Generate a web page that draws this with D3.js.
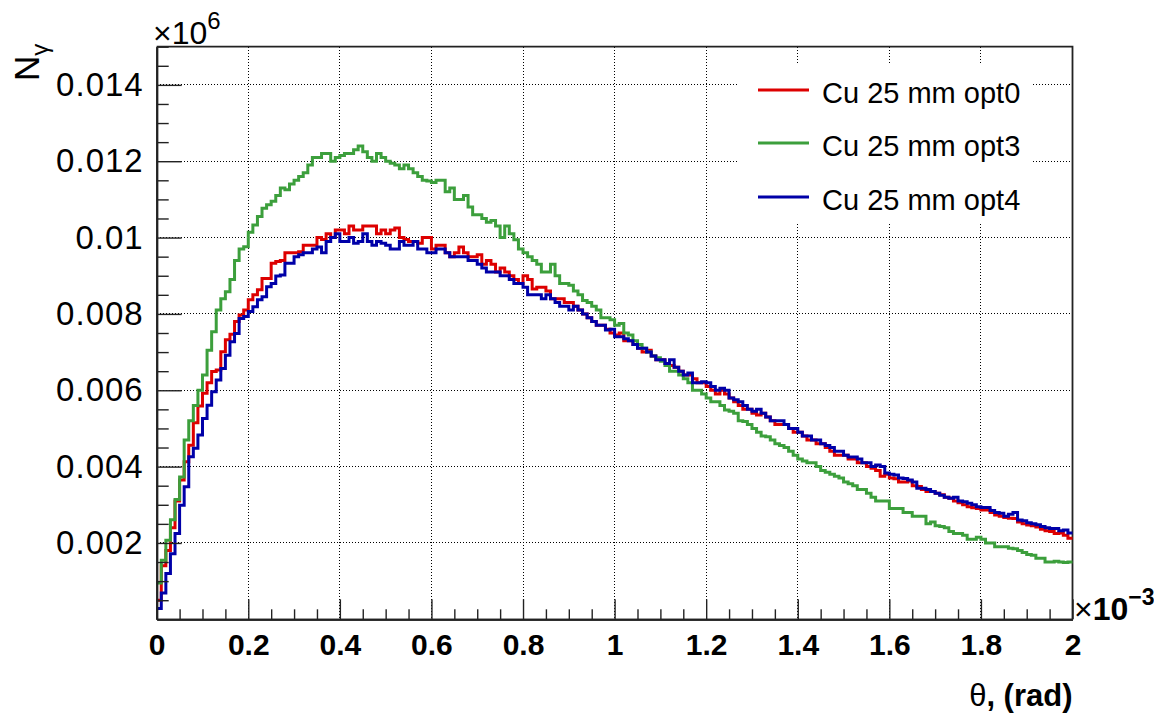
<!DOCTYPE html>
<html><head><meta charset="utf-8">
<script src="https://cdn.jsdelivr.net/npm/d3@7"></script>
<style>
body{margin:0;background:#fff}
text{font-family:"Liberation Sans",Arial,Helvetica,sans-serif}
</style>
</head><body>
<svg id="c" width="1154" height="713"></svg>
<script>
// ---- data ----
const xMin = 0, xMax = 2, nBins = 200;           // theta, x10^-3 rad
const xTicks = [0,0.2,0.4,0.6,0.8,1,1.2,1.4,1.6,1.8,2];
const xTickLabels = ["0","0.2","0.4","0.6","0.8","1","1.2","1.4","1.6","1.8","2"];
const yTicks = [0.002,0.004,0.006,0.008,0.010,0.012,0.014];
const yTickLabels = ["0.002","0.004","0.006","0.008","0.01","0.012","0.014"];
const seriesNames = ["Cu 25 mm opt0","Cu 25 mm opt3","Cu 25 mm opt4"];
const seriesColors = ["#dd0000","#3c9f3c","#0000a8"];

const opt0 = [
0.0005,0.0014,0.0018,0.0024,0.0031,0.00365,0.00413,0.00456,0.00515,0.00559,
0.00592,0.0062,0.00649,0.00653,0.00701,0.00732,0.00747,0.0078,0.00797,0.0081,
0.00837,0.0085,0.00863,0.00893,0.00893,0.00933,0.00937,0.0094,0.0096,0.0096,
0.0096,0.00963,0.0098,0.0098,0.0098,0.0100,0.00995,0.0101,0.0100,0.0102,
0.0102,0.0101,0.0103,0.0102,0.0102,0.0103,0.0103,0.0103,0.0101,0.0102,
0.0101,0.0102,0.01025,0.0100,0.00995,0.0099,0.0099,0.00985,0.0100,0.0100,
0.0097,0.0098,0.0098,0.0096,0.0095,0.0096,0.00975,0.0096,0.0095,0.0095,
0.00955,0.0093,0.0094,0.0093,0.0091,0.0092,0.0091,0.0090,0.0089,0.0088,
0.0090,0.0089,0.00865,0.0087,0.0087,0.0086,0.0084,0.0084,0.0084,0.0083,
0.0083,0.0082,0.0081,0.0080,0.0079,0.0078,0.0077,0.0077,0.0076,0.0075,
0.00745,0.0075,0.0073,0.0073,0.0072,0.0071,0.0070,0.00705,0.0069,0.0068,
0.0068,0.0067,0.00665,0.0066,0.0065,0.0064,0.0064,0.0063,0.0062,0.0062,
0.0061,0.0060,0.0059,0.0060,0.0059,0.0058,0.0057,0.0056,0.0055,0.0055,
0.0054,0.00535,0.0054,0.0053,0.0052,0.0051,0.0051,0.0051,0.0050,0.0049,
0.0049,0.0048,0.0047,0.0047,0.0046,0.0046,0.0045,0.0044,0.0043,0.0043,
0.0043,0.0042,0.0042,0.0041,0.0041,0.0040,0.00396,0.0039,0.00375,0.0038,
0.0037,0.00368,0.0036,0.0036,0.00362,0.0035,0.00348,0.0034,0.00335,0.00335,
0.0033,0.00326,0.0032,0.00317,0.0031,0.00305,0.0030,0.00295,0.00292,0.0029,
0.00286,0.00286,0.0028,0.00273,0.0027,0.00267,0.00265,0.00264,0.00255,0.0025,
0.00247,0.00245,0.00242,0.00236,0.00232,0.0023,0.00225,0.00226,0.0022,0.00212];

const opt3 = [
0.00095,0.00155,0.00207,0.00261,0.00314,0.00373,0.0047,0.0052,0.0056,0.0060,
0.0064,0.00705,0.00753,0.0081,0.0084,0.00858,0.0089,0.0094,0.0097,0.00976,
0.01014,0.01033,0.01055,0.01077,0.01086,0.01095,0.0111,0.0113,0.01125,0.0114,
0.0115,0.0116,0.0117,0.0119,0.0121,0.0121,0.0122,0.0122,0.0120,0.0121,
0.01215,0.0122,0.0122,0.0123,0.0124,0.01225,0.0121,0.0120,0.0122,0.0121,
0.0120,0.01195,0.0119,0.0118,0.0119,0.0118,0.0117,0.0116,0.0115,0.01148,
0.01144,0.0115,0.0115,0.0112,0.0113,0.0110,0.0110,0.0111,0.0108,0.0106,
0.0106,0.0105,0.0104,0.01045,0.0103,0.0100,0.0103,0.0101,0.00994,0.0097,
0.0096,0.0095,0.0094,0.0093,0.0091,0.0091,0.0093,0.0090,0.0088,0.0088,
0.00875,0.0086,0.0085,0.00835,0.0083,0.0082,0.0081,0.0079,0.0079,0.00785,
0.0077,0.00775,0.0075,0.00745,0.0073,0.0072,0.0071,0.0070,0.0069,0.00685,
0.00676,0.00665,0.0065,0.0065,0.0064,0.0063,0.0062,0.0060,0.0060,0.0059,
0.0058,0.0057,0.0057,0.0056,0.00548,0.00545,0.0054,0.0052,0.00518,0.0051,
0.0050,0.0049,0.0048,0.00478,0.0047,0.0046,0.00455,0.0045,0.0044,0.0043,
0.0042,0.00415,0.0041,0.0041,0.0040,0.0039,0.00385,0.0038,0.00375,0.0037,
0.0036,0.00355,0.0035,0.0034,0.0034,0.0033,0.0032,0.0031,0.0031,0.0031,
0.0029,0.0029,0.0029,0.0028,0.0028,0.0027,0.0027,0.0027,0.0025,0.00255,
0.00245,0.00243,0.0024,0.0023,0.00225,0.00225,0.0022,0.0021,0.0021,0.00215,
0.0021,0.0020,0.0020,0.0019,0.0019,0.0019,0.00186,0.00185,0.0018,0.00175,
0.0017,0.00168,0.0016,0.0016,0.0015,0.0015,0.00152,0.0015,0.00149,0.0015];

const opt4 = [
0.00028,0.00069,0.0012,0.00172,0.00225,0.00299,0.00347,0.00426,0.00448,0.00483,
0.00526,0.00561,0.00596,0.00627,0.00657,0.00692,0.00727,0.00749,0.00788,0.00793,
0.00806,0.00819,0.00837,0.00845,0.00871,0.0088,0.00899,0.00902,0.00933,0.00933,
0.0095,0.00955,0.0096,0.0096,0.0097,0.00975,0.0096,0.0099,0.0100,0.0101,
0.0099,0.0099,0.0100,0.00985,0.0099,0.0101,0.0099,0.0098,0.0099,0.00985,
0.0098,0.0097,0.0097,0.0099,0.0098,0.0098,0.0099,0.0097,0.0097,0.0096,
0.0096,0.0097,0.0097,0.0096,0.0095,0.0095,0.0095,0.0095,0.0094,0.0094,
0.0093,0.0092,0.0091,0.0091,0.0091,0.0090,0.0090,0.0089,0.0088,0.0088,
0.0087,0.0085,0.0085,0.0085,0.0084,0.0085,0.0084,0.0083,0.0082,0.0082,
0.0081,0.0082,0.0081,0.0080,0.0079,0.0078,0.0077,0.0077,0.00758,0.0076,
0.0074,0.0074,0.00735,0.0073,0.0072,0.0071,0.0071,0.0070,0.0069,0.0068,
0.0068,0.0067,0.0068,0.0066,0.0065,0.0064,0.00645,0.0062,0.0062,0.00622,
0.0062,0.0061,0.0060,0.00605,0.0060,0.0058,0.00575,0.0057,0.0056,0.0055,
0.00545,0.0055,0.0054,0.0053,0.0052,0.0052,0.0052,0.0051,0.0050,0.0050,
0.0049,0.0048,0.0048,0.0047,0.0047,0.0046,0.00455,0.0045,0.0044,0.0044,
0.0043,0.00425,0.00425,0.0042,0.0041,0.0041,0.0040,0.00404,0.0040,0.00383,
0.0038,0.00378,0.0037,0.00369,0.00365,0.0036,0.00343,0.00343,0.0034,0.00335,
0.0033,0.00325,0.0032,0.00317,0.0032,0.0031,0.00308,0.00304,0.0030,0.00295,
0.00293,0.00293,0.00285,0.0028,0.00278,0.0027,0.00275,0.0028,0.0026,0.00258,
0.00253,0.0025,0.00248,0.00243,0.0024,0.00238,0.00238,0.00232,0.00234,0.00226];

const allSeries = [opt0, opt3, opt4];

// ---- layout ----
const L = 156.7, R = 1072.5, T = 46.7, B = 619.3;
const svg = d3.select("#c");
const x = d3.scaleLinear().domain([xMin, xMax]).range([L, R]);
const y = d3.scaleLinear().domain([0, 0.015]).range([B, T]);
const edges = d3.range(nBins + 1).map(i => xMin + i * (xMax - xMin) / nBins);
const snap = v => Math.round(v - 0.5) + 0.5;

// grid
const grid = svg.append("g").attr("stroke", "#000").attr("stroke-width", 1)
  .attr("stroke-dasharray", "1,2").attr("shape-rendering", "crispEdges");
xTicks.filter(t => t > xMin && t < xMax).forEach(t => {
  grid.append("line").attr("x1", snap(x(t))).attr("x2", snap(x(t))).attr("y1", T).attr("y2", B);
});
yTicks.forEach(t => {
  grid.append("line").attr("x1", L).attr("x2", R).attr("y1", snap(y(t))).attr("y2", snap(y(t)));
});

// frame top/right
svg.append("path").attr("d", `M${L},${T}H${R}V${B}`).attr("fill", "none")
  .attr("stroke", "#222").attr("stroke-width", 1.8);

// histograms
const line = d3.line().x(d => x(d[0])).y(d => y(d[1])).curve(d3.curveStepAfter);
allSeries.forEach((vals, k) => {
  const pts = vals.map((v, i) => [edges[i], v]);
  pts.push([edges[nBins], vals[nBins - 1]]);
  svg.append("path").datum(pts).attr("d", line).attr("fill", "none")
    .attr("stroke", seriesColors[k]).attr("stroke-width", 3)
    .attr("stroke-linejoin", "miter");
});

// x axis
const xMinor = d3.range(0, 41).map(i => i * 0.05).filter(v => !xTicks.some(t => Math.abs(t - v) < 1e-9));
const gxm = svg.append("g").attr("transform", `translate(0,${B})`)
  .call(d3.axisBottom(x).tickValues(xMinor).tickSizeInner(-10).tickSizeOuter(0).tickFormat(""));
const gx = svg.append("g").attr("transform", `translate(0,${B})`)
  .call(d3.axisBottom(x).tickValues(xTicks).tickSizeInner(-20).tickSizeOuter(0)
    .tickPadding(14).tickFormat((d, i) => xTickLabels[i]));
[gxm, gx].forEach(g => {
  g.selectAll("line").attr("stroke", "#222").attr("stroke-width", 1.4);
  g.select(".domain").attr("stroke", "#222").attr("stroke-width", 2);
});
gx.selectAll("text").attr("fill", "#000").attr("font-size", 30).attr("font-weight", "bold")
  .style("font-family", "'Liberation Sans',Arial,sans-serif");

// y axis
const yMinor = d3.range(0, 31).map(i => i * 0.0005).filter(v => !yTicks.some(t => Math.abs(t - v) < 1e-9) && v > 0);
const gym = svg.append("g").attr("transform", `translate(${L},0)`)
  .call(d3.axisLeft(y).tickValues(yMinor).tickSizeInner(-12).tickSizeOuter(0).tickFormat(""));
const gy = svg.append("g").attr("transform", `translate(${L},0)`)
  .call(d3.axisLeft(y).tickValues(yTicks).tickSizeInner(-25).tickSizeOuter(0)
    .tickPadding(13).tickFormat((d, i) => yTickLabels[i]));
[gym, gy].forEach(g => {
  g.selectAll("line").attr("stroke", "#222").attr("stroke-width", 1.4);
  g.select(".domain").attr("stroke", "#222").attr("stroke-width", 2);
});
gy.selectAll("text").attr("fill", "#000").attr("font-size", 33).attr("letter-spacing", "1px")
  .style("font-family", "'Liberation Sans',Arial,sans-serif");

// axis titles & exponents
const xt = svg.append("text").attr("x", R).attr("y", 706).attr("text-anchor", "end")
  .attr("font-size", 31).attr("font-weight", "bold");
xt.append("tspan").attr("font-weight", "normal").text("θ");
xt.append("tspan").text(", (rad)");

const xe = svg.append("text").attr("x", 1074).attr("y", 620).attr("font-size", 32).attr("font-weight", "bold");
xe.append("tspan").attr("font-weight", "normal").text("×");
xe.append("tspan").text("10");
xe.append("tspan").attr("font-size", 23).attr("dy", -15).text("−3");

const ye = svg.append("text").attr("x", 153).attr("y", 44).attr("font-size", 32);
ye.append("tspan").text("×10");
ye.append("tspan").attr("font-size", 24).attr("dy", -15).text("6");

const yt = svg.append("text").attr("transform", "translate(39,81) rotate(-90)").attr("font-size", 35);
yt.append("tspan").text("N");
yt.append("tspan").attr("font-size", 24).attr("dy", 9).text("γ");

// legend
const lg = svg.append("g");
lg.append("rect").attr("x", 738).attr("y", 63).attr("width", 295).attr("height", 160).attr("fill", "#fff");
const legY = [90, 143, 197];
seriesNames.forEach((n, k) => {
  lg.append("line").attr("x1", 758).attr("x2", 809).attr("y1", legY[k]).attr("y2", legY[k])
    .attr("stroke", seriesColors[k]).attr("stroke-width", 3);
  lg.append("text").attr("x", 822).attr("y", legY[k] + 12.5).attr("font-size", 29).attr("fill", "#000").text(n);
});
</script>
</body></html>
